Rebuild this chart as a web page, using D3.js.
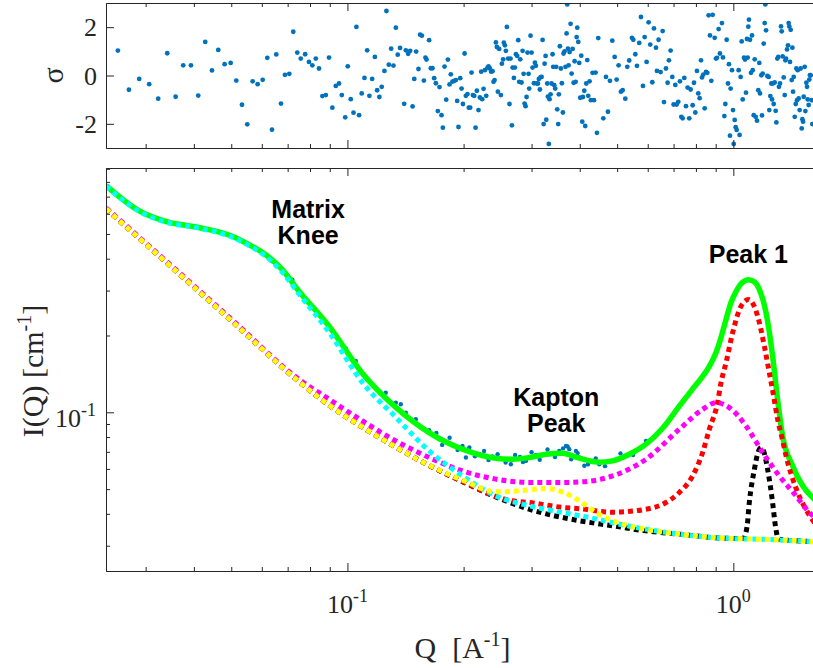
<!DOCTYPE html>
<html>
<head>
<meta charset="utf-8">
<script src="https://cdn.jsdelivr.net/npm/d3@7"></script>
<style>
  html, body { margin: 0; padding: 0; background: #fff; overflow: hidden; }
  svg { display: block; }
</style>
</head>
<body>
<svg id="chart" width="813" height="668"></svg>
<script>
// ---------------- data ----------------
// normalised fit residuals: [Q (1/A), sigma]
const residuals = [
[0.02542,1.03],[0.02715,-0.59],[0.02887,-0.14],[0.03064,-0.36],[0.03233,-0.96],[0.03413,0.92],[0.03588,-0.88],[0.03754,0.42],[0.03931,0.42],[0.04106,-0.83],
[0.04281,1.39],[0.04456,0.21],[0.04627,1.06],[0.04806,0.47],[0.04982,0.52],[0.05152,-0.21],[0.05330,-1.21],[0.05501,-2.02],[0.05681,-0.24],[0.05853,-0.36],
[0.06031,-0.18],[0.06199,0.73],[0.06375,-2.24],[0.06541,0.87],[0.06727,-1.16],[0.06889,0.03],[0.07068,0.07],[0.07239,1.81],[0.07414,0.95],
[0.0757,0.70],[0.0777,0.88],[0.0795,0.56],[0.0811,0.42],[0.0828,0.70],[0.0844,0.29],[0.0861,-0.85],[0.0879,-0.81],[0.0896,0.74],[0.0914,-1.33],
[0.0933,-0.43],[0.0951,-0.33],[0.0967,-0.81],[0.0987,-1.73],[0.1002,0.38],[0.1020,-0.98],[0.1037,-1.54],[0.1055,2.01],[0.1072,-1.64],[0.1089,-0.74],
[0.1107,-0.10],[0.1125,1.04],[0.1140,-0.84],[0.1159,-0.14],[0.1178,0.77],[0.1194,-0.61],[0.1210,-0.89],[0.1227,-0.47],[0.1247,0.19],[0.1262,2.67],
[0.1280,0.45],[0.1298,1.11],[0.1316,0.41],[0.1335,1.98],[0.1350,0.86],[0.1369,1.14],[0.1403,-1.17],[0.1417,1.04],[0.1437,0.90],[0.1454,1.02],
[0.1475,-1.28],[0.1490,-0.14],[0.1507,0.99],[0.1528,0.27],[0.1543,1.69],[0.1559,1.65],[0.1578,-0.21],[0.1593,0.74],[0.1603,0.66],[0.1628,1.46],
[0.1645,0.30],[0.1661,0.30],[0.1678,-0.11],[0.1695,-0.32],[0.1715,-1.47],[0.1732,-0.48],[0.1753,-1.64],[0.1767,-2.16],[0.1785,0.37],[0.1803,-1.00],
[0.1821,0.66],[0.1839,-0.37],[0.1853,0.05],[0.1872,-0.25],[0.1891,-0.22],[0.1910,-0.19],[0.1925,-1.05],[0.1940,-2.13],[0.1960,-0.11],[0.1976,-0.54],
[0.1992,-1.18],[0.2012,0.91],[0.2027,-0.84],[0.2047,-0.77],[0.2063,-1.33],[0.2080,-1.33],[0.2097,0.12],[0.2114,-0.81],[0.2131,-0.84],[0.2148,-2.16],
[0.2165,-0.63],[0.2186,-1.43],[0.2204,-0.91],[0.2222,0.16],[0.2235,-0.98],[0.2253,-0.55],[0.2271,0.22],[0.2289,-0.84],[0.2307,0.33],[0.2321,0.38],
[0.2339,0.29],[0.2358,0.16],[0.2377,0.18],[0.2391,-0.26],[0.2406,-0.19],[0.2425,1.37],[0.2439,1.18],[0.2454,-0.67],[0.2473,1.10],[0.2498,-0.81],
[0.2513,0.49],[0.2533,0.67],[0.2543,1.36],[0.2559,1.25],[0.2574,1.02],[0.2589,2.01],[0.2609,0.70],[0.2630,-1.18],[0.2646,0.70],[0.2668,-2.06],
[0.2679,0.33],[0.2700,-0.10],[0.2716,0.33],[0.2733,0.88],[0.2754,0.81],[0.2771,1.46],[0.2787,-0.26],[0.2804,0.67],[0.2826,-0.29],[0.2844,1.02],
[0.2861,0.07],[0.2878,-1.16],[0.2895,-1.27],[0.2912,-0.89],[0.2929,0.95],[0.2947,0.07],[0.2958,-0.54],[0.2982,1.65],[0.3000,0.95],[0.3018,0.33],
[0.3043,-0.32],[0.3061,0.53],[0.3079,0.40],[0.3097,-0.33],[0.3116,-0.33],[0.3134,-0.14],[0.3153,-0.58],[0.3166,-0.07],[0.3185,-0.06],[0.3204,1.47],
[0.3224,-2.01],[0.3243,0.49],[0.3262,0.81],[0.3275,-1.83],[0.3295,-0.33],[0.3308,-0.87],[0.3326,-2.83],[0.3340,-0.98],[0.3360,-0.78],[0.3380,-0.33],
[0.3401,0.88],[0.3414,0.36],[0.3435,-0.40],[0.3455,-0.54],[0.3476,0.36],[0.3497,-1.40],[0.3517,-2.01],[0.3531,-0.78],[0.3552,1.21],[0.3574,0.29],
[0.3595,-0.32],[0.3617,-1.53],[0.3631,0.91],[0.3653,1.00],[0.3674,0.36],[0.3697,1.74],[0.3712,2.94],[0.3727,1.11],[0.3742,0.42],[0.3764,0.97],
[0.3787,2.14],[0.3810,0.08],[0.3833,1.10],[0.3856,-0.30],[0.3879,0.59],[0.3903,-0.26],[0.3926,1.59],[0.3941,1.98],[0.3965,1.39],[0.3987,0.52],
[0.4011,-0.92],[0.4036,0.82],[0.4060,-1.91],[0.4076,-0.89],[0.4109,-0.63],[0.4133,-2.09],[0.4158,-0.33],[0.4183,0.64],[0.4207,-0.84],[0.4241,-0.24],
[0.4275,-1.02],[0.4318,0.11],[0.4353,-1.02],[0.4396,0.12],[0.4432,-2.37],[0.4467,1.55],
[0.4603,-1.77],[0.4677,-0.06],[0.4732,-1.50],[0.4789,-0.22],[0.4857,1.44],[0.4926,0.77],[0.4984,-0.17],[0.5043,0.42],[0.5114,-0.67],[0.5166,-0.61],
[0.5249,-0.96],[0.5311,0.36],[0.5373,0.62],[0.5461,1.56],[0.5505,1.48],[0.5572,0.88],[0.5627,0.40],[0.5704,1.35],[0.5763,2.42],[0.5833,-0.43],
[0.5891,1.59],[0.5961,0.56],[0.6032,2.20],[0.6092,1.28],[0.6166,-0.28],[0.6228,1.95],[0.6303,1.15],[0.6340,0.19],[0.6402,1.48],[0.6480,0.14],
[0.6559,1.84],[0.6612,-1.10],[0.6690,0.29],[0.6756,-0.30],[0.6809,0.63],[0.6878,1.03],[0.6948,-0.06],[0.7004,-1.20],[0.7074,-0.39],[0.7130,-1.20],
[0.7200,-1.09],[0.7272,-0.24],[0.7331,-1.71],[0.7390,-1.77],[0.7464,-0.10],[0.7539,-1.27],[0.7613,-0.50],[0.7687,-1.77],[0.7750,-0.58],[0.7845,-1.23],
[0.7908,-0.30],[0.7971,-1.53],[0.8050,0.19],[0.8113,-0.74],[0.8178,-0.94],[0.8245,0.63],[0.8295,-0.08],[0.8361,0.04],[0.8428,-1.36],[0.8495,0.15],
[0.8562,0.11],[0.8629,2.49],[0.8698,1.66],[0.8769,-0.22],[0.8840,2.51],[0.8946,1.56],[0.9017,0.70],[0.9070,0.73],[0.9160,1.92],[0.9231,0.91],
[0.9344,2.17],[0.9400,0.75],[0.9478,-1.68],[0.9534,-1.18],[0.9610,1.48],[0.9686,-0.33],[0.9742,0.47],[0.9801,-2.49],[0.9840,-0.54],[0.9921,0.22],
[0.9980,-1.43],[1.0021,-2.83],[1.0081,-1.84],[1.0141,-2.14],[1.0201,-2.25],[1.0321,0.22],[1.0382,-2.46],[1.0446,-0.06],[1.0510,1.41],[1.0574,-0.99],
[1.0659,0.74],[1.0722,0.66],[1.0786,-0.71],[1.0850,1.51],[1.0893,0.74],[1.0935,2.02],[1.0978,2.31],[1.1044,1.48],[1.1112,0.11],[1.1180,1.66],
[1.1225,0.22],[1.1292,-1.64],[1.1360,0.67],[1.1428,-1.71],[1.1518,-1.87],[1.1608,-0.61],[1.1676,0.52],[1.1724,-0.74],[1.1820,0.01],[1.1867,-1.65],
[1.1915,0.08],[1.1987,1.32],[1.2058,2.17],[1.2106,2.94],[1.2154,1.87],[1.2250,-0.02],[1.2345,-0.06],[1.2393,-1.43],[1.2469,-0.85],[1.2545,-0.33],
[1.2596,-0.99],[1.2647,-0.33],[1.2723,-1.18],[1.2800,-0.29],[1.2876,-1.46],[1.2927,-1.94],[1.3003,0.70],[1.3080,0.77],[1.3129,-0.47],[1.3210,-0.33],
[1.3291,2.03],[1.3345,1.83],[1.3426,0.79],[1.3507,-0.08],[1.3588,-0.81],[1.3642,0.63],[1.3696,0.70],[1.3777,1.08],[1.3858,1.25],[1.3912,2.17],
[1.3966,2.03],[1.4023,0.56],[1.4081,1.89],[1.4167,-0.19],[1.4224,1.15],[1.4281,-0.67],[1.4339,-0.06],[1.4425,-1.71],[1.4511,-1.18],[1.4568,0.29],
[1.4625,-1.02],[1.4682,0.22],[1.4768,-0.95],[1.4855,-1.43],[1.4946,0.29],[1.5037,-2.19],[1.5098,-1.81],[1.5159,-1.91],[1.5219,-0.88],[1.5311,0.36],
[1.5371,-1.47],[1.5462,-0.30],[1.5523,-0.47],[1.5584,-0.99],[1.5675,-1.22],[1.5736,-0.17],[1.5799,0.01],[1.5862,0.01],[1.5956,-1.02],[1.6019,-2.01]
];

// measured scattering intensity: [Q, I(Q) in 1/cm]
const measured = [
[0.0237,0.773],[0.0260,0.690],[0.0288,0.617],[0.0338,0.560],[0.0380,0.542],[0.0412,0.530],[0.0460,0.512],[0.0503,0.490],[0.0556,0.454],[0.0614,0.415],
[0.0639,0.391],[0.0677,0.363],[0.0720,0.331],[0.0749,0.298],[0.0820,0.255],[0.0897,0.217],[0.0990,0.178],[0.1051,0.1588],[0.1094,0.142],[0.1257,0.1194],
[0.1335,0.1091],[0.1375,0.1075],[0.1417,0.0997],[0.1504,0.0939],[0.1628,0.0850],[0.1700,0.0830],[0.1729,0.0784],[0.1760,0.0745],[0.1781,0.0772],[0.1840,0.0795],
[0.1880,0.0745],[0.1930,0.0712],[0.1987,0.0738],[0.2028,0.0665],[0.2070,0.0728],[0.2140,0.0672],[0.2196,0.0685],[0.2260,0.0705],[0.2320,0.0650],[0.2376,0.0671],
[0.2450,0.0685],[0.2500,0.0658],[0.2570,0.0636],[0.2652,0.0626],[0.2720,0.0680],[0.2800,0.0668],[0.2850,0.0638],[0.2901,0.0645],[0.3000,0.0698],[0.3080,0.0680],
[0.3150,0.0652],[0.3202,0.0679],[0.3300,0.0715],[0.3400,0.0690],[0.3450,0.0668],[0.3538,0.0706],[0.3620,0.0722],[0.3684,0.0738],[0.3719,0.0734],[0.3757,0.0717],
[0.3800,0.0655],[0.3910,0.0706],[0.3950,0.0692],[0.3988,0.0665],[0.4109,0.0617],[0.4200,0.0625],[0.4300,0.0640],[0.4400,0.0660],[0.4494,0.0626],[0.4650,0.0615],
[0.4865,0.0645],[0.5100,0.0690],[0.5375,0.0685],[0.5500,0.0680],[0.5706,0.0717],[0.5938,0.0772],[0.6200,0.0795],[0.6556,0.0866],[0.7244,0.1058],[0.7829,0.1230],
[0.8326,0.1383],[0.8666,0.1514],[0.9019,0.1717],[0.9574,0.231],[1.0163,0.297],[1.0956,0.331],[1.168,0.303],[1.2154,0.246],[1.2642,0.166],[1.3025,0.112],
[1.342,0.0808],[1.4246,0.0616],[1.5127,0.0515],[1.6028,0.0464]
];

// total model fit
const fitTotal = [
[0.0237,0.773],[0.0288,0.617],[0.0338,0.560],[0.0412,0.530],[0.0503,0.490],[0.0556,0.454],[0.0614,0.415],[0.0677,0.363],[0.0749,0.298],[0.0897,0.217],
[0.1094,0.142],[0.1335,0.1046],[0.1628,0.0833],[0.1987,0.0717],[0.2425,0.0661],[0.2678,0.0655],[0.2958,0.0665],[0.3269,0.0685],[0.3608,0.0691],[0.3988,0.0661],
[0.4494,0.0637],[0.4865,0.0645],[0.5375,0.0685],[0.5938,0.0750],[0.6556,0.0866],[0.7244,0.1058],[0.7829,0.1230],[0.8326,0.1383],[0.8666,0.1514],[0.9019,0.1717],
[0.9292,0.1965],[0.9574,0.2312],[0.9864,0.2694],[1.0163,0.2974],[1.049,0.320],[1.0956,0.331],[1.1335,0.325],[1.168,0.303],[1.2154,0.246],[1.2642,0.166],
[1.3025,0.112],[1.342,0.0808],[1.4246,0.0616],[1.5127,0.0515],[1.6028,0.0464],[1.70,0.0430]
];

// model components (each includes the common background)
const background = [
[0.0237,0.627],[0.0338,0.389],[0.0503,0.227],[0.0749,0.132],[0.0897,0.1065],[0.1094,0.0874],[0.1335,0.0730],[0.1628,0.0619],[0.1987,0.0535],[0.2425,0.0466],
[0.2958,0.0417],[0.3608,0.0387],[0.3988,0.0376],[0.4865,0.0359],[0.5938,0.0343],[0.7244,0.0333],[0.8837,0.0323],[1.060,0.0320],[1.085,0.0355],[1.100,0.0443],
[1.134,0.0598],[1.160,0.0700],[1.180,0.0727],[1.200,0.0700],[1.227,0.0598],[1.264,0.0443],[1.285,0.0360],[1.310,0.0318],[1.603,0.0311],[1.700,0.0309]
];
const peakOne = [
[0.0237,0.627],[0.0338,0.389],[0.0503,0.227],[0.0749,0.132],[0.0897,0.1065],[0.1094,0.0874],[0.1335,0.0730],[0.1628,0.0619],[0.1987,0.0536],[0.2425,0.0468],
[0.2678,0.0450],[0.2958,0.0443],[0.3608,0.0424],[0.3988,0.0419],[0.4865,0.0406],[0.5938,0.0417],[0.669,0.0443],[0.7244,0.0485],[0.7844,0.0563],[0.8326,0.0696],
[0.8666,0.0858],[0.910,0.109],[0.9292,0.1307],[0.9574,0.1565],[0.9958,0.2050],[1.047,0.2605],[1.0956,0.2768],[1.1561,0.2381],[1.2032,0.1817],[1.2396,0.1430],
[1.2696,0.1176],[1.3025,0.0939],[1.3397,0.0784],[1.3722,0.0667],[1.4567,0.0500],[1.5744,0.0395],[1.70,0.0340]
];
const broadPeak = [
[0.0237,0.632],[0.0338,0.393],[0.0503,0.230],[0.0749,0.1346],[0.0897,0.1124],[0.1094,0.0925],[0.1335,0.0772],[0.1628,0.0665],[0.1987,0.0589],[0.2425,0.0547],
[0.2958,0.0531],[0.3608,0.0531],[0.3988,0.0533],[0.4865,0.0563],[0.5938,0.0655],[0.7244,0.0858],[0.8326,0.1027],[0.9019,0.1091],[0.9764,0.1043],[1.0787,0.0884],
[1.1913,0.0696],[1.3157,0.0563],[1.4544,0.0470],[1.5744,0.0405],[1.70,0.0370]
];
const matrixKnee = [
[0.0237,0.770],[0.0288,0.614],[0.0338,0.557],[0.0412,0.527],[0.0503,0.486],[0.0556,0.450],[0.0614,0.409],[0.0677,0.355],[0.0749,0.291],[0.0897,0.2056],
[0.1094,0.1307],[0.1335,0.0956],[0.1628,0.0706],[0.1987,0.0563],[0.2425,0.0470],[0.2958,0.0430],[0.3608,0.0405],[0.4232,0.0387],[0.547,0.0356],[0.7244,0.0333],
[0.8837,0.0323],[1.3157,0.0316],[1.6028,0.0311],[1.70,0.0309]
];
const kaptonPeak = [
[0.0237,0.627],[0.0338,0.389],[0.0503,0.227],[0.0749,0.132],[0.0897,0.1065],[0.1094,0.0874],[0.1335,0.0730],[0.1628,0.0620],[0.1987,0.0542],[0.2425,0.0488],
[0.2678,0.0490],[0.2958,0.0497],[0.3269,0.0503],[0.3608,0.0487],[0.3988,0.0450],[0.4406,0.0405],[0.4865,0.0376],[0.5938,0.0348],[0.7244,0.0333],[0.8837,0.0323],
[1.3157,0.0316],[1.6028,0.0311],[1.70,0.0309]
];

// axis ticks and labels
const qDomain = [0.02368, 2.0];
const iDomain = [0.02388, 0.9067];
const sigmaDomain = [-3, 3];
const sigmaTicks = [-2, 0, 2];
const qMajor = [0.1, 1];
const qMajorExp = ["-1", "0"];
const iMajor = [0.1];
const iMajorExp = ["-1"];

const annotations = [
  { lines: ["Matrix", "Knee"], q: 0.0791, i: 0.579 },
  { lines: ["Kapton", "Peak"], q: 0.3476, i: 0.106 },
  { lines: ["Peak 1"], q: 1.094, i: 0.386 }
];

// ---------------- drawing ----------------
const svg = d3.select("#chart");
const serif = "'Liberation Serif','Times New Roman',Times,serif";
const sans = "'Liberation Sans',Arial,Helvetica,sans-serif";
const axisColor = "#262626";

const x = d3.scaleLog().domain(qDomain).range([106, 849.5]);
const ySig = d3.scaleLinear().domain(sigmaDomain).range([148, 3]);
const yI = d3.scaleLog().domain(iDomain).range([571, 168]);

const defs = svg.append("defs");
defs.append("clipPath").attr("id", "clipTop").append("rect")
  .attr("x", 106.5).attr("y", 3.5).attr("width", 760).attr("height", 145);
defs.append("clipPath").attr("id", "clipBot").append("rect")
  .attr("x", 106.5).attr("y", 168.5).attr("width", 760).attr("height", 403);

// residual panel
svg.append("g").attr("clip-path", "url(#clipTop)")
  .selectAll("circle").data(residuals).join("circle")
  .attr("cx", d => x(d[0])).attr("cy", d => ySig(d[1]))
  .attr("r", 2.4).attr("fill", "#0072BD");

// intensity panel
const plot = svg.append("g").attr("clip-path", "url(#clipBot)");
plot.selectAll("circle").data(measured).join("circle")
  .attr("cx", d => x(d[0])).attr("cy", d => yI(d[1]))
  .attr("r", 2.2).attr("fill", "#0072BD");

const line = d3.line().x(d => x(d[0])).y(d => yI(d[1])).curve(d3.curveMonotoneX);

plot.append("path").datum(fitTotal).attr("d", line)
  .attr("fill", "none").attr("stroke", "#00ff00").attr("stroke-width", 5.5)
  .attr("stroke-linejoin", "round");

const components = [
  { data: background, color: "#000000" },
  { data: peakOne, color: "#ff0000" },
  { data: broadPeak, color: "#ff00ff" },
  { data: matrixKnee, color: "#00ffff" },
  { data: kaptonPeak, color: "#ffff00" }
];
components.forEach(c => {
  plot.append("path").datum(c.data).attr("d", line)
    .attr("fill", "none").attr("stroke", c.color).attr("stroke-width", 5)
    .attr("stroke-dasharray", "5 4").attr("stroke-linecap", "butt");
});

// frames with inward ticks on every visible side
const xMinor = x.ticks().filter(v => !qMajor.some(m => Math.abs(m - v) < 1e-9));
const yMinorI = yI.ticks().filter(v => !iMajor.some(m => Math.abs(m - v) < 1e-9));

function frame(yScale, yTop, yBottom, yMajor, yMinor) {
  const g = svg.append("g");
  const sets = [[qMajor, 8], [xMinor, 4]];
  sets.forEach(([vals, len]) => {
    g.append("g").attr("transform", `translate(0,${yBottom})`)
      .call(d3.axisBottom(x).tickValues(vals).tickSize(-len).tickSizeOuter(0).tickFormat(""));
    g.append("g").attr("transform", `translate(0,${yTop})`)
      .call(d3.axisTop(x).tickValues(vals).tickSize(-len).tickSizeOuter(0).tickFormat(""));
  });
  g.append("g").attr("transform", "translate(106,0)")
    .call(d3.axisLeft(yScale).tickValues(yMajor).tickSize(-8).tickSizeOuter(0).tickFormat(""));
  if (yMinor.length) {
    g.append("g").attr("transform", "translate(106,0)")
      .call(d3.axisLeft(yScale).tickValues(yMinor).tickSize(-4).tickSizeOuter(0).tickFormat(""));
  }
  g.selectAll(".domain").attr("stroke", axisColor).attr("stroke-width", 1);
  g.selectAll(".tick line").attr("stroke", axisColor).attr("stroke-width", 1);
}
frame(ySig, 3, 148, sigmaTicks, []);
frame(yI, 168, 571, iMajor, yMinorI);

// tick labels
const labels = svg.append("g").attr("font-family", serif).attr("fill", axisColor);

labels.selectAll("text.sig").data(sigmaTicks).join("text")
  .attr("x", 97).attr("y", d => ySig(d) + 9)
  .attr("text-anchor", "end").attr("font-size", 26)
  .text(d => d);

function powerLabel(parent, base, exp, attrs) {
  const t = parent.append("text").attr("font-size", 26);
  Object.entries(attrs).forEach(([k, v]) => t.attr(k, v));
  t.append("tspan").text(base);
  t.append("tspan").attr("font-size", 18).attr("dy", -11).text(exp);
  return t;
}
qMajor.forEach((v, k) => {
  powerLabel(labels, "10", qMajorExp[k], { x: x(v), y: 613, "text-anchor": "middle" });
});
iMajor.forEach((v, k) => {
  powerLabel(labels, "10", iMajorExp[k], { x: 96, y: yI(v) + 15, "text-anchor": "end" });
});

// axis titles
labels.append("text")
  .attr("transform", `translate(63,${ySig(0)}) rotate(-90)`)
  .attr("text-anchor", "middle").attr("font-size", 30).text("σ");

const iTitle = labels.append("text")
  .attr("transform", `translate(43,371) rotate(-90)`)
  .attr("text-anchor", "middle").attr("font-size", 30);
iTitle.append("tspan").text("I(Q) [cm");
iTitle.append("tspan").attr("font-size", 20).attr("dy", -12).text("-1");
iTitle.append("tspan").attr("dy", 12).text("]");

const qTitle = labels.append("text")
  .attr("x", 462.5).attr("y", 658)
  .attr("text-anchor", "middle").attr("font-size", 30);
qTitle.append("tspan").text("Q");
qTitle.append("tspan").attr("dx", 16).text("[A");
qTitle.append("tspan").attr("font-size", 20).attr("dy", -12).text("-1");
qTitle.append("tspan").attr("dy", 12).text("]");

// peak annotations
const ann = svg.append("g").attr("font-family", sans).attr("font-weight", "bold")
  .attr("font-size", 25).attr("fill", "#000").attr("text-anchor", "middle");
annotations.forEach(a => {
  a.lines.forEach((s, k) => {
    ann.append("text").attr("x", x(a.q)).attr("y", yI(a.i) + k * 26).text(s);
  });
});
</script>
</body>
</html>
